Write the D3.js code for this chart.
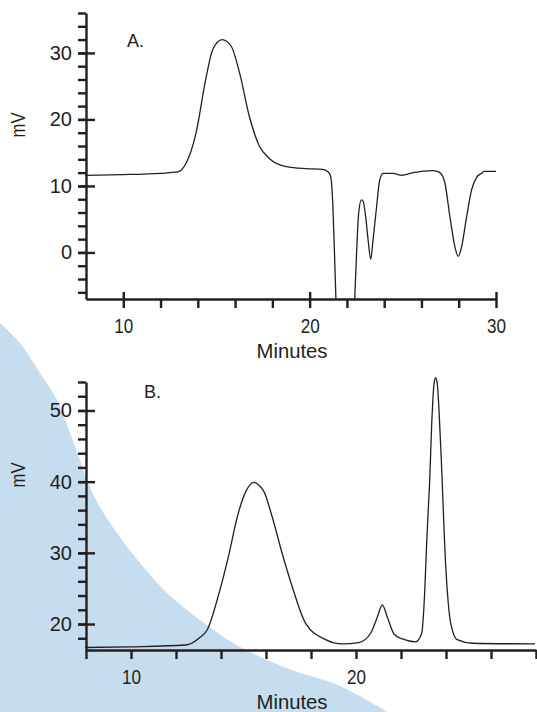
<!DOCTYPE html>
<html>
<head>
<meta charset="utf-8">
<script src="https://cdn.jsdelivr.net/npm/d3@7"></script>
<style>
  body { margin: 0; background: #fff; }
  svg { display: block; }
  .ylab text { font-family: "Liberation Sans", Arial, sans-serif; font-size: 20px; fill: #231f20; }
  .xlab text { font-family: "Liberation Sans", Arial, sans-serif; font-size: 21px; fill: #231f20; }
  .title { font-family: "Liberation Sans", Arial, sans-serif; font-size: 21px; fill: #231f20; }
  .unit { font-family: "Liberation Sans", Arial, sans-serif; font-size: 20px; fill: #231f20; }
  .panel { font-family: "Liberation Sans", Arial, sans-serif; font-size: 18px; fill: #231f20; }
  .trace { fill: none; stroke: #231f20; stroke-width: 1.3; }
</style>
</head>
<body>
<div id="chart"></div>
<script>
// chromatogram A: time (min) and signal (mV); null = off the bottom of the scale
const timeA = [7.96, 10, 12.0, 12.92, 13.37, 13.9, 14.45, 14.8, 15.3, 15.79, 16.24, 16.77, 17.3, 17.85, 18.75, 19.8, 20.7, 21.0, 21.13, 21.25, 21.34, 21.41,
  21.9,
  22.42, 22.51, 22.63, 22.78, 22.87, 23.01, 23.14, 23.28, 23.4, 23.59, 23.76, 23.94, 24.48, 24.93, 25.55, 26.63, 26.99, 27.26, 27.53, 27.8, 27.97, 28.15, 28.42, 28.69, 28.96, 29.23, 29.35, 30.0];
const mvA = [11.6, 11.7, 11.9, 12.1, 13.4, 17.9, 26.4, 30.5, 32.0, 31.0, 27.0, 20.4, 16.0, 14.1, 12.9, 12.6, 12.5, 12.1, 11.4, 6.8, -0.7, -7.0,
  null,
  -7.0, -0.7, 5.9, 7.9, 7.7, 5.3, 1.8, -1.0, 1.8, 6.8, 10.9, 11.9, 11.9, 11.6, 12.0, 12.3, 12.0, 10.4, 5.3, 0.8, -0.6, 0.8, 5.3, 9.4, 11.3, 11.9, 12.2, 12.2];

// chromatogram B
const timeB = [7.96, 10, 12.43, 13.02, 13.39, 13.91, 14.36, 14.72, 15.1, 15.47, 15.69, 15.91, 16.28, 16.72, 17.17, 17.76, 18.65, 19.39, 20.13, 20.65, 20.95, 21.17, 21.39, 21.69, 22.06, 22.65, 22.92, 23.05, 23.14, 23.21, 23.27, 23.36, 23.47, 23.54, 23.61, 23.76, 23.99, 24.21, 24.5, 25.17, 27.96];
const mvB = [16.7, 16.8, 17.05, 18.0, 19.2, 24.3, 29.9, 35.0, 38.6, 39.9, 39.5, 38.6, 35.0, 29.9, 25.2, 20.1, 17.8, 17.2, 17.4, 18.7, 21.0, 22.7, 21.0, 18.6, 17.9, 17.5, 18.7, 24.3, 31.3, 36.0, 39.7, 47.7, 53.8, 54.6, 53.8, 45.3, 28.0, 20.1, 17.8, 17.3, 17.2];

// ticks
const yMajorA = [0, 10, 20, 30];
const yMinorA = d3.range(-6, 37, 2);
const xMajorA = [10, 20, 30];
const xMinorA = d3.range(10, 31, 2);

const yMajorB = [20, 30, 40, 50];
const yMinorB = d3.range(18, 55, 2);
const xLabelsB = [10, 20];
const xMinorB = d3.range(8, 29, 2);

// decorative background swoosh (page pixels)
const swoosh = [[0, 323], [20, 343], [40, 373], [57, 400], [70, 433], [80, 460], [88, 483], [100, 507], [117, 533], [140, 563],
  [167, 593], [200, 620], [233, 643], [267, 660], [300, 673], [333, 683], [367, 700], [387, 712]];

const width = 537, height = 712;
const ink = "#231f20";

const svg = d3.select("#chart").append("svg")
    .attr("width", width)
    .attr("height", height);

svg.append("path")
    .attr("d", d3.line().curve(d3.curveCatmullRom)(swoosh) + "L0,712Z")
    .attr("fill", "#c6dcef");

function thick(s) {
    s.selectAll("line, path").attr("stroke", ink).attr("stroke-width", 2.4);
}

function drawPanel(cfg) {
    let g = svg.append("g");

    let x = d3.scaleLinear().domain(cfg.xDomain).range(cfg.xRange);
    let y = d3.scaleLinear().domain(cfg.yDomain).range(cfg.yRange);
    let x0 = cfg.xRange[0], yb = cfg.yRange[0];

    // y axis: minor ticks on the left, major ticks crossing
    g.append("g")
        .attr("transform", "translate(" + x0 + ",0)")
        .call(d3.axisLeft(y).tickValues(cfg.yMinor).tickSize(8).tickSizeOuter(0).tickFormat(""))
        .call(thick);
    g.append("g")
        .attr("transform", "translate(" + x0 + ",0)")
        .call(d3.axisRight(y).tickValues(cfg.yMajor).tickSize(9).tickSizeOuter(0).tickFormat(""))
        .call(s => s.select(".domain").remove())
        .call(thick);
    g.append("g").attr("class", "ylab")
        .attr("transform", "translate(" + x0 + ",0)")
        .call(d3.axisLeft(y).tickValues(cfg.yMajor).tickSize(8).tickPadding(6).tickSizeOuter(0))
        .call(s => s.select(".domain").remove())
        .call(thick);

    // x axis
    g.append("g")
        .attr("transform", "translate(0," + yb + ")")
        .call(d3.axisBottom(x).tickValues(cfg.xMinor).tickSize(9).tickSizeOuter(0).tickFormat(""))
        .call(thick);
    if (cfg.xUp) {
        g.append("g")
            .attr("transform", "translate(0," + yb + ")")
            .call(d3.axisTop(x).tickValues(cfg.xUp).tickSize(7).tickSizeOuter(0).tickFormat(""))
            .call(s => s.select(".domain").remove())
            .call(thick);
    }
    g.append("g").attr("class", "xlab")
        .attr("transform", "translate(0," + yb + ")")
        .call(d3.axisBottom(x).tickValues(cfg.xLabels).tickSize(0).tickPadding(19))
        .call(s => s.select(".domain").remove())
        .call(s => s.selectAll("text").attr("textLength", 19).attr("lengthAdjust", "spacingAndGlyphs"));

    g.append("path")
        .datum(d3.zip(cfg.t, cfg.v))
        .attr("class", "trace")
        .attr("d", d3.line()
            .defined(d => d[1] !== null)
            .curve(d3.curveMonotoneX)
            .x(d => x(d[0]))
            .y(d => y(d[1])));

    g.append("text")
        .attr("class", "title")
        .attr("x", cfg.titleX)
        .attr("y", cfg.titleY)
        .attr("text-anchor", "middle")
        .attr("textLength", 71)
        .attr("lengthAdjust", "spacingAndGlyphs")
        .text("Minutes");

    g.append("text")
        .attr("class", "unit")
        .attr("transform", "translate(25," + cfg.unitY + ") rotate(-90)")
        .attr("text-anchor", "middle")
        .attr("textLength", 25)
        .attr("lengthAdjust", "spacingAndGlyphs")
        .text("mV");

    g.append("text")
        .attr("class", "panel")
        .attr("x", cfg.panelX)
        .attr("y", cfg.panelY)
        .text(cfg.panel);
}

drawPanel({
    t: timeA, v: mvA,
    xDomain: [8, 30], xRange: [86, 496],
    yDomain: [-7, 36], yRange: [299, 13],
    yMajor: yMajorA, yMinor: yMinorA,
    xMinor: xMinorA, xUp: xMajorA, xLabels: xMajorA,
    titleX: 292, titleY: 358, unitY: 125,
    panel: "A.", panelX: 127, panelY: 47
});

drawPanel({
    t: timeB, v: mvB,
    xDomain: [8, 28], xRange: [86, 536],
    yDomain: [16.35, 54], yRange: [650, 382],
    yMajor: yMajorB, yMinor: yMinorB,
    xMinor: xMinorB, xUp: null, xLabels: xLabelsB,
    titleX: 292, titleY: 709, unitY: 475,
    panel: "B.", panelX: 144, panelY: 398
});
</script>
</body>
</html>
